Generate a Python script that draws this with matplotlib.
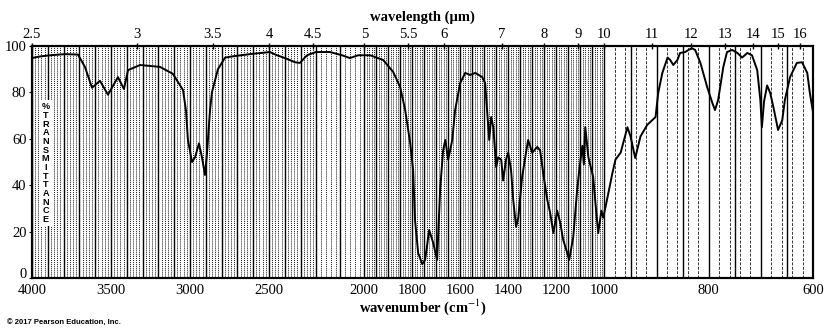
import numpy as np
import matplotlib
matplotlib.use("Agg")
import matplotlib.pyplot as plt

plt.rcParams["font.family"] = ["Liberation Serif", "DejaVu Serif"]
plt.rcParams["mathtext.fontset"] = "stix"

# IR spectrum (wavenumber in cm-1, % transmittance)
wavenumber = [
    4000, 3949, 3886, 3791, 3709, 3665, 3620, 3570, 3519, 3456, 3418, 3392,
    3316, 3190, 3108, 3044, 3025, 3013, 2987, 2968, 2943, 2924, 2905, 2892,
    2873, 2861, 2823, 2778, 2734, 2620, 2494, 2449, 2399, 2335, 2304, 2259,
    2203, 2143, 2093, 2060, 2026, 1976, 1922, 1880, 1851, 1830, 1809, 1797,
    1789, 1776, 1759, 1747, 1730, 1713, 1697, 1684, 1672, 1663, 1651, 1634,
    1622, 1601, 1580, 1559, 1538, 1509, 1497, 1489, 1480, 1472, 1463, 1451,
    1443, 1430, 1422, 1410, 1401, 1389, 1380, 1368, 1359, 1343, 1330, 1318,
    1301, 1280, 1268, 1255, 1238, 1226, 1213, 1197, 1184, 1172, 1155, 1147,
    1130, 1113, 1101, 1092, 1086, 1080, 1067, 1047, 1034, 1026, 1013, 1005,
    994, 985, 979, 969, 956, 950, 941, 931, 918, 902, 897, 889, 879, 874,
    868, 860, 855, 845, 839, 832, 826, 816, 803, 793, 788, 782, 772, 765,
    755, 745, 736, 726, 717, 707, 701, 698, 694, 688, 682, 676, 667, 659,
    654, 644, 631, 621, 611, 606, 600,
]
transmittance = [
    94.8, 95.5, 96.0, 96.5, 96.3, 91.0, 82.0, 85.0, 79.0, 86.6, 81.5, 89.6,
    91.8, 91.0, 88.0, 81.0, 72.0, 59.5, 50.0, 52.0, 58.0, 52.0, 44.4, 54.0,
    72.4, 80.0, 90.0, 95.0, 95.5, 96.5, 97.4, 96.0, 94.8, 93.0, 92.7, 96.0,
    97.4, 97.4, 96.0, 94.8, 96.0, 96.0, 94.0, 88.8, 82.3, 72.4, 58.0, 46.5,
    25.0, 10.8, 6.0, 7.8, 20.7, 15.0, 7.8, 39.0, 55.0, 59.5, 51.0, 59.5,
    72.4, 84.0, 88.4, 87.5, 88.4, 86.6, 84.0, 72.4, 59.5, 69.4, 65.0, 47.8,
    52.0, 51.0, 42.0, 51.0, 54.0, 46.5, 33.6, 22.0, 26.0, 43.5, 52.0, 59.5,
    54.0, 56.5, 55.0, 45.0, 33.6, 28.0, 19.4, 29.0, 23.7, 16.4, 10.8, 7.8,
    17.7, 39.0, 50.0, 57.0, 49.0, 65.0, 52.0, 43.5, 28.0, 19.4, 29.0, 26.0,
    35.0, 45.0, 51.0, 54.0, 65.0, 61.0, 51.7, 61.0, 66.0, 69.4, 79.7, 88.4,
    95.0, 94.0, 91.8, 94.0, 97.0, 97.4, 98.3, 99.0, 98.3, 92.7, 82.3, 75.4,
    72.4, 76.7, 91.0, 97.4, 98.3, 97.0, 95.0, 97.0, 96.0, 89.6, 76.7, 65.0,
    76.0, 83.0, 79.7, 73.7, 63.8, 68.0, 76.7, 86.6, 92.7, 93.0, 88.4, 79.7,
    71.5,
]

wn_ticks = [4000, 3500, 3000, 2500, 2000, 1800, 1600, 1400, 1200, 1000, 800, 600]
um_ticks = [2.5, 3, 3.5, 4, 4.5, 5, 5.5, 6, 7, 8, 9, 10, 11, 12, 13, 14, 15, 16]
pct_ticks = [0, 20, 40, 60, 80, 100]

# chart paper is stretched below 2200 and again below 1000 cm-1
seg_edges = np.array([600.0, 1000.0, 2200.0, 4000.0])
seg_stretch = np.array([3.3, 1.52, 1.0])
seg_units = np.concatenate([[0.0], np.cumsum(np.diff(seg_edges) * seg_stretch)])


def forward(w):
    return np.interp(w, seg_edges, seg_units)


def inverse(u):
    return np.interp(u, seg_units, seg_edges)


fig = plt.figure(figsize=(8.35, 3.36), dpi=100)
ax = fig.add_axes([32 / 835, 58 / 336, 781 / 835, 232 / 336])
ax.set_xscale("function", functions=(forward, inverse))
ax.set_xlim(4000, 600)
ax.set_ylim(0, 100)

# chart-paper rulings
xt = ax.get_xaxis_transform()
fine_dense = np.concatenate([np.arange(4000, 2000, -20), np.arange(2000, 1000, -10)])
fine_sparse = np.arange(1000, 600, -20)
heavy = np.concatenate([np.arange(4000, 2000, -100), np.arange(2000, 1000, -50),
                        np.arange(1000, 599, -50)])
ax.vlines(fine_dense, 0, 1, transform=xt, colors="black", linewidth=0.7,
          linestyles=(0, (1.0, 1.0)), alpha=0.9, zorder=1)
ax.vlines(fine_sparse, 0, 1, transform=xt, colors="black", linewidth=0.7,
          linestyles=(0, (3.0, 1.5)), alpha=0.8, zorder=1)
ax.vlines(heavy, 0, 1, transform=xt, colors="black", linewidth=1.0, zorder=1)

ax.plot(wavenumber, transmittance, color="black", linewidth=1.4, zorder=3)

ax.text(0.0175, 0.495, "\n".join("%TRANSMITTANCE"), transform=ax.transAxes,
        ha="center", va="center", fontsize=6.6, fontweight="bold",
        family=["Liberation Sans", "DejaVu Sans"], linespacing=0.95, zorder=4,
        bbox=dict(facecolor="white", edgecolor="none", pad=1.5))

ax.set_xticks(wn_ticks)
ax.set_xticklabels([str(t) for t in wn_ticks])
ax.xaxis.set_minor_locator(plt.NullLocator())
ax.set_yticks(pct_ticks)
ax.tick_params(axis="x", length=0, pad=4.5, labelsize=10.5)
ax.tick_params(axis="y", length=2, pad=2, labelsize=10.5)
# lift the "0" so it sits above the 4000 label
ax.get_yticklabels()[0].set_verticalalignment("baseline")
ax.set_xlabel(r"wavenumber (cm$^{-1}$)", fontsize=10.5, fontweight="bold", labelpad=0)

top = ax.twiny()
top.set_xscale("function", functions=(forward, inverse))
top.set_xlim(4000, 600)
top.set_xticks([1e4 / l for l in um_ticks])
top.set_xticklabels([f"{l:g}" for l in um_ticks])
top.xaxis.set_minor_locator(plt.NullLocator())
top.tick_params(axis="x", direction="inout", length=5, width=1, pad=1, labelsize=10.5)
top.set_xlabel("wavelength (\u00b5m)", fontsize=10.5, fontweight="bold", labelpad=5)

for a in (ax, top):
    for s in a.spines.values():
        s.set_linewidth(1.5)

fig.text(0.008, 1 - 323 / 336, "\u00a9 2017 Pearson Education, Inc.", fontsize=5.5,
         fontweight="bold", family=["Liberation Sans", "DejaVu Sans"], va="center")

fig.savefig("out.png", dpi=100)
